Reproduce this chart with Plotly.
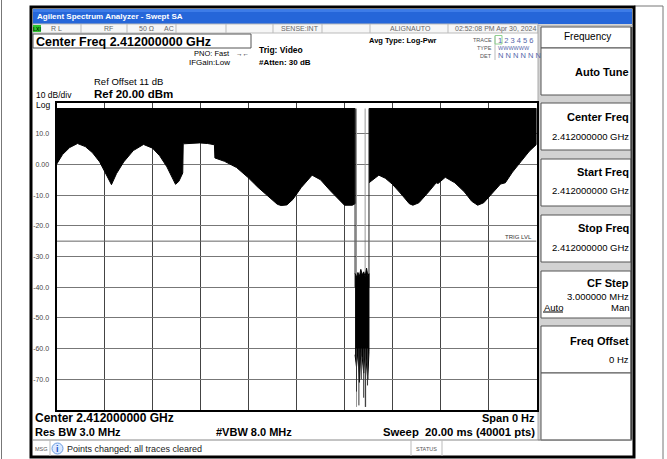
import plotly.graph_objects as go

# ---------------- data ----------------
TOP_LEVEL = 18.2  # dBm, upper edge of the bursty trace

# time (ms) / lower envelope (dBm) of first part of sweep
seg1_t = [0.0, 0.25, 0.55, 0.875, 1.2, 1.5, 1.8, 2.05, 2.29,
          2.5, 2.8, 3.2, 3.625, 4.0, 4.3, 4.6, 4.8, 4.96, 5.1, 5.26,
          5.28, 5.6, 5.96, 6.3, 6.58, 6.60, 7.0, 7.5, 7.97, 8.4, 8.9,
          9.2, 9.36, 9.6, 9.85, 10.2, 10.65, 11.0, 11.4, 11.79, 12.0,
          12.33, 12.44]
seg1_lo = [0.0, 3.2, 5.5, 6.8, 5.8, 3.8, 0.8, -3.0, -6.6,
           -3.0, 0.8, 4.5, 6.5, 5.3, 2.8, -0.8, -4.0, -6.5, -5.5, -2.8,
           6.7, 6.9, 7.0, 6.8, 6.4, 2.1, 1.0, -1.0, -4.2, -7.5, -11.0,
           -13.0, -13.4, -13.2, -11.4, -7.5, -3.5, -5.0, -8.5, -11.7, -13.3,
           -13.3, -12.8]

# second part of sweep
seg2_t = [13.02, 13.2, 13.43, 13.7, 14.0, 14.4, 14.7, 14.85, 15.1, 15.5,
          15.82, 15.9, 16.2, 16.6, 17.0, 17.3, 17.55, 17.8, 18.2, 18.5,
          18.7, 19.0, 19.36, 19.7, 20.0]
seg2_lo = [-6.0, -4.8, -3.5, -4.5, -6.5, -10.0, -12.8, -13.3, -12.5, -9.0,
           -6.0, -6.2, -4.2, -6.0, -9.0, -12.0, -13.3, -12.5, -9.0, -6.4,
           -6.0, -2.5, 1.0, 4.3, 6.5]

# burst in the gap
burst_t = [12.44, 12.50, 12.56, 12.62, 12.68, 12.74, 12.80, 12.86, 12.92, 12.97, 13.02]
burst_hi = [-35.5, -36.8, -35.2, -36.5, -34.2, -36.0, -35.0, -36.6, -33.8, -36.2, -35.6]
burst_lo = [-62.0, -66.0, -60.5, -71.0, -61.0, -63.0, -68.0, -60.0, -64.0, -70.0, -61.0]

# deep spikes below the burst
spike_t = [12.50, 12.60, 12.70, 12.80, 12.88, 12.96]
spike_lo = [-74.0, -78.5, -70.0, -76.0, -79.0, -72.0]

# vertical trace transitions at the gap edges (black) and inside (gray)
edge_t = [12.44, 13.02]
inner_t = [12.50, 12.86]

TRIG_LEVEL = -25.0

y_tick_vals = [10, 0, -10, -20, -30, -40, -50, -60, -70]
y_tick_text = ["10.0", "0.00", "-10.0", "-20.0", "-30.0", "-40.0", "-50.0", "-60.0", "-70.0"]

# ---------------- geometry helpers ----------------
W, H = 667, 459
FONT = "Liberation Sans, Arial, sans-serif"


def px(x):
    return x / W


def py(y):
    return 1 - y / H


shapes = []
annotations = []


def rect(x0, y0, x1, y1, fill=None, line="#000", lw=1, layer="below"):
    shapes.append(dict(type="rect", xref="paper", yref="paper",
                       x0=px(x0), x1=px(x1), y0=py(y1), y1=py(y0),
                       fillcolor=fill if fill else "rgba(0,0,0,0)",
                       line=dict(color=line, width=lw), layer=layer))


def hline(x0, x1, y, color="#000", lw=1, layer="below"):
    shapes.append(dict(type="line", xref="paper", yref="paper",
                       x0=px(x0), x1=px(x1), y0=py(y), y1=py(y),
                       line=dict(color=color, width=lw), layer=layer))


def vline(x, y0, y1, color="#000", lw=1, layer="below"):
    shapes.append(dict(type="line", xref="paper", yref="paper",
                       x0=px(x), x1=px(x), y0=py(y0), y1=py(y1),
                       line=dict(color=color, width=lw), layer=layer))


def text(x, y, s, size=9, anchor="left", bold=False, color="#000", family=FONT):
    annotations.append(dict(xref="paper", yref="paper", x=px(x), y=py(y),
                            text=f"<b>{s}</b>" if bold else s,
                            xanchor=anchor, yanchor="middle", showarrow=False,
                            borderpad=0,
                            font=dict(size=size, color=color, family=family)))


# ---------------- chrome ----------------
vline(1.5, 0, 459, color="#777")
vline(663, 6, 459, color="#777")
hline(634, 663, 6, color="#777")

# instrument screen frame
rect(31, 7, 634, 457, fill="#ffffff", line="#000", lw=3)
# title bar
rect(33, 9, 632, 24, fill="#2566d9", line="#2566d9", lw=0)
rect(33, 9, 632, 12, fill="#3d7ce8", line="#3d7ce8", lw=0)
text(36, 16.5, "Agilent Spectrum Analyzer - Swept SA", size=8, color="#ffffff", bold=True)

# status row
rect(33, 24, 538, 33, fill="#f6f6f6", line="#bbbbbb", lw=1)
for sx in [81, 127, 176, 226, 273, 322, 370, 448]:
    vline(sx, 24, 33, color="#bbbbbb")
rect(33, 25, 41, 32, fill="#2fc52f", line="#2fc52f", lw=0)
text(37, 28.5, "LXI", size=5, anchor="center", bold=True, color="#003300")
text(50, 28.5, "R L", size=7, color="#666")
text(103, 28.5, "RF", size=7, color="#666")
text(138, 28.5, "50 Ω", size=7, color="#666")
text(163, 28.5, "AC", size=7, color="#666")
text(320, 28.5, "SENSE:INT", size=7, anchor="right", color="#666")
text(432, 28.5, "ALIGNAUTO", size=7, anchor="right", color="#666")
text(537, 28.5, "02:52:08 PM Apr 30, 2024", size=7, anchor="right", color="#666")

# center freq box
rect(33, 34, 251, 48, fill="#ffffff", line="#555", lw=1)
text(35, 41.5, "Center Freq 2.412000000 GHz", size=12.5, bold=True)

text(193, 53, "PNO: Fast", size=7.5)
text(235, 53, "→←", size=6.5)
text(188, 62.5, "IFGain:Low", size=8)
text(258, 50.5, "Trig: Video", size=8.5, bold=True)
text(258, 62.5, "#Atten: 30 dB", size=8, bold=True)
text(368, 40, "Avg Type: Log-Pwr", size=7.5, bold=True)

# trace info block
text(493, 40, "TRACE", size=5.5, anchor="right", color="#555")
text(493, 48, "TYPE", size=5.5, anchor="right", color="#555")
text(493, 56, "DET", size=5.5, anchor="right", color="#555")
vline(495, 36, 60, color="#bbbbbb")
rect(495, 35.5, 502, 44, line="#8fd18f", lw=1)
text(497, 40, "1 2 3 4 5 6", size=7.5, color="#5566aa")
text(497, 48, "WWWWWW", size=5.5, color="#5566aa")
text(497, 56, "N N N N N N", size=7.5, color="#5566aa")

# reference labels
text(93, 82, "Ref Offset 11 dB", size=9.5)
text(93, 94.5, "Ref 20.00 dBm", size=11.5, bold=True)
text(35, 95, "10 dB/div", size=8.5)
text(35, 104.5, "Log", size=8.5)

# softkey panel
rect(538, 25, 632, 440, fill="#d2d2d2", line="#aaaaaa", lw=1)
key_boxes = [(27, 48), (48, 95), (103, 150), (159, 206), (215, 262), (271, 318), (326, 373), (373, 440)]
for (ky0, ky1) in key_boxes:
    rect(541, ky0, 631, ky1, fill="#ffffff", line="#555", lw=1)
vline(631.5, 27, 440, color="#444", lw=2)
text(587, 36.5, "Frequency", size=10, anchor="center")
text(630, 72, "Auto Tune", size=11, anchor="right", bold=True)
text(630, 117, "Center Freq", size=11, anchor="right", bold=True)
text(630, 136, "2.412000000 GHz", size=9.5, anchor="right")
text(630, 172, "Start Freq", size=11, anchor="right", bold=True)
text(630, 191, "2.412000000 GHz", size=9.5, anchor="right")
text(630, 228, "Stop Freq", size=11, anchor="right", bold=True)
text(630, 247, "2.412000000 GHz", size=9.5, anchor="right")
text(630, 283, "CF Step", size=11, anchor="right", bold=True)
text(630, 296, "3.000000 MHz", size=9.5, anchor="right")
text(543, 307, "Auto", size=9.5)
hline(543, 563, 312, color="#000", lw=1)
text(630, 307, "Man", size=9.5, anchor="right")
text(630, 341, "Freq Offset", size=11, anchor="right", bold=True)
text(630, 359, "0 Hz", size=9.5, anchor="right")

# bottom annotation area
text(34, 418, "Center 2.412000000 GHz", size=12, bold=True)
text(34, 432, "Res BW 3.0 MHz", size=11, bold=True)
text(215, 432, "#VBW 8.0 MHz", size=11, bold=True)
text(536, 418, "Span 0 Hz", size=11, anchor="right", bold=True)
text(536, 432, "Sweep  20.00 ms (40001 pts)", size=11.3, anchor="right", bold=True)

# message row
hline(33, 632, 440, color="#888")
vline(50, 440, 456, color="#bbbbbb")
vline(411, 440, 456, color="#bbbbbb")
vline(442, 440, 456, color="#bbbbbb")
text(33.5, 448.5, "MSG", size=5.5, color="#555")
shapes.append(dict(type="circle", xref="paper", yref="paper",
                   x0=px(52), x1=px(63), y0=py(454), y1=py(443),
                   fillcolor="#dbe9ff", line=dict(color="#6a9be0", width=1), layer="below"))
text(57.5, 448.5, "i", size=9, anchor="center", bold=True, color="#1a55c8")
text(66, 448.5, "Points changed; all traces cleared", size=9, color="#222")
text(426, 448.5, "STATUS", size=5.5, anchor="center", color="#555")

# ---------------- traces ----------------
fig = go.Figure()

# bursty trace segments (filled between upper level and lower envelope)
for seg_t, seg_lo in [(seg1_t, seg1_lo), (seg2_t, seg2_lo)]:
    xs = list(seg_t) + [seg_t[-1], seg_t[0]]
    ys = list(seg_lo) + [TOP_LEVEL, TOP_LEVEL]
    fig.add_trace(go.Scatter(x=xs, y=ys, mode="lines", fill="toself",
                             fillcolor="#000", line=dict(color="#000", width=1),
                             hoverinfo="skip", showlegend=False))

# vertical transitions in the gap
ix, iy = [], []
for t in inner_t:
    ix += [t, t, None]
    iy += [TOP_LEVEL, -79.0, None]
fig.add_trace(go.Scatter(x=ix, y=iy, mode="lines", line=dict(color="#999", width=1),
                         hoverinfo="skip", showlegend=False))
ex, ey = [], []
for t in edge_t:
    ex += [t, t, None]
    ey += [TOP_LEVEL, -40.0, None]
fig.add_trace(go.Scatter(x=ex, y=ey, mode="lines", line=dict(color="#222", width=1),
                         hoverinfo="skip", showlegend=False))

# burst
fig.add_trace(go.Scatter(x=list(burst_t) + list(burst_t)[::-1],
                         y=list(burst_hi) + list(burst_lo)[::-1],
                         mode="lines", fill="toself", fillcolor="#000",
                         line=dict(color="#000", width=1),
                         hoverinfo="skip", showlegend=False))
sx, sy = [], []
for t, lo in zip(spike_t, spike_lo):
    sx += [t, t, None]
    sy += [-60.0, lo, None]
fig.add_trace(go.Scatter(x=sx, y=sy, mode="lines", line=dict(color="#333", width=1),
                         hoverinfo="skip", showlegend=False))

# trigger level line
fig.add_trace(go.Scatter(x=[0, 20], y=[TRIG_LEVEL, TRIG_LEVEL], mode="lines",
                         line=dict(color="#666", width=1), hoverinfo="skip", showlegend=False))
text(533, 237, "TRIG LVL", size=6, anchor="right", color="#333")

fig.update_layout(
    width=W, height=H, margin=dict(l=0, r=0, t=0, b=0),
    paper_bgcolor="#ffffff", plot_bgcolor="#ffffff",
    shapes=shapes, annotations=annotations, showlegend=False,
    xaxis=dict(domain=[px(56.5), px(536.5)], range=[0, 20], dtick=2, tick0=0,
               showgrid=True, gridcolor="#444", gridwidth=1,
               showticklabels=False, zeroline=False, ticks="",
               showline=True, linecolor="#000", linewidth=2, mirror=True, fixedrange=True),
    yaxis=dict(domain=[py(410), py(103)], range=[-80, 20],
               tickvals=y_tick_vals, ticktext=y_tick_text,
               tickfont=dict(size=7, color="#444", family=FONT),
               ticklabelstandoff=4,
               showgrid=True, gridcolor="#777", gridwidth=1,
               zeroline=False, ticks="",
               showline=True, linecolor="#000", linewidth=2, mirror=True, fixedrange=True),
)

fig.write_html("out.html", config={"displayModeBar": False},
               post_script="document.body.style.margin='0';document.body.style.overflow='hidden';")
